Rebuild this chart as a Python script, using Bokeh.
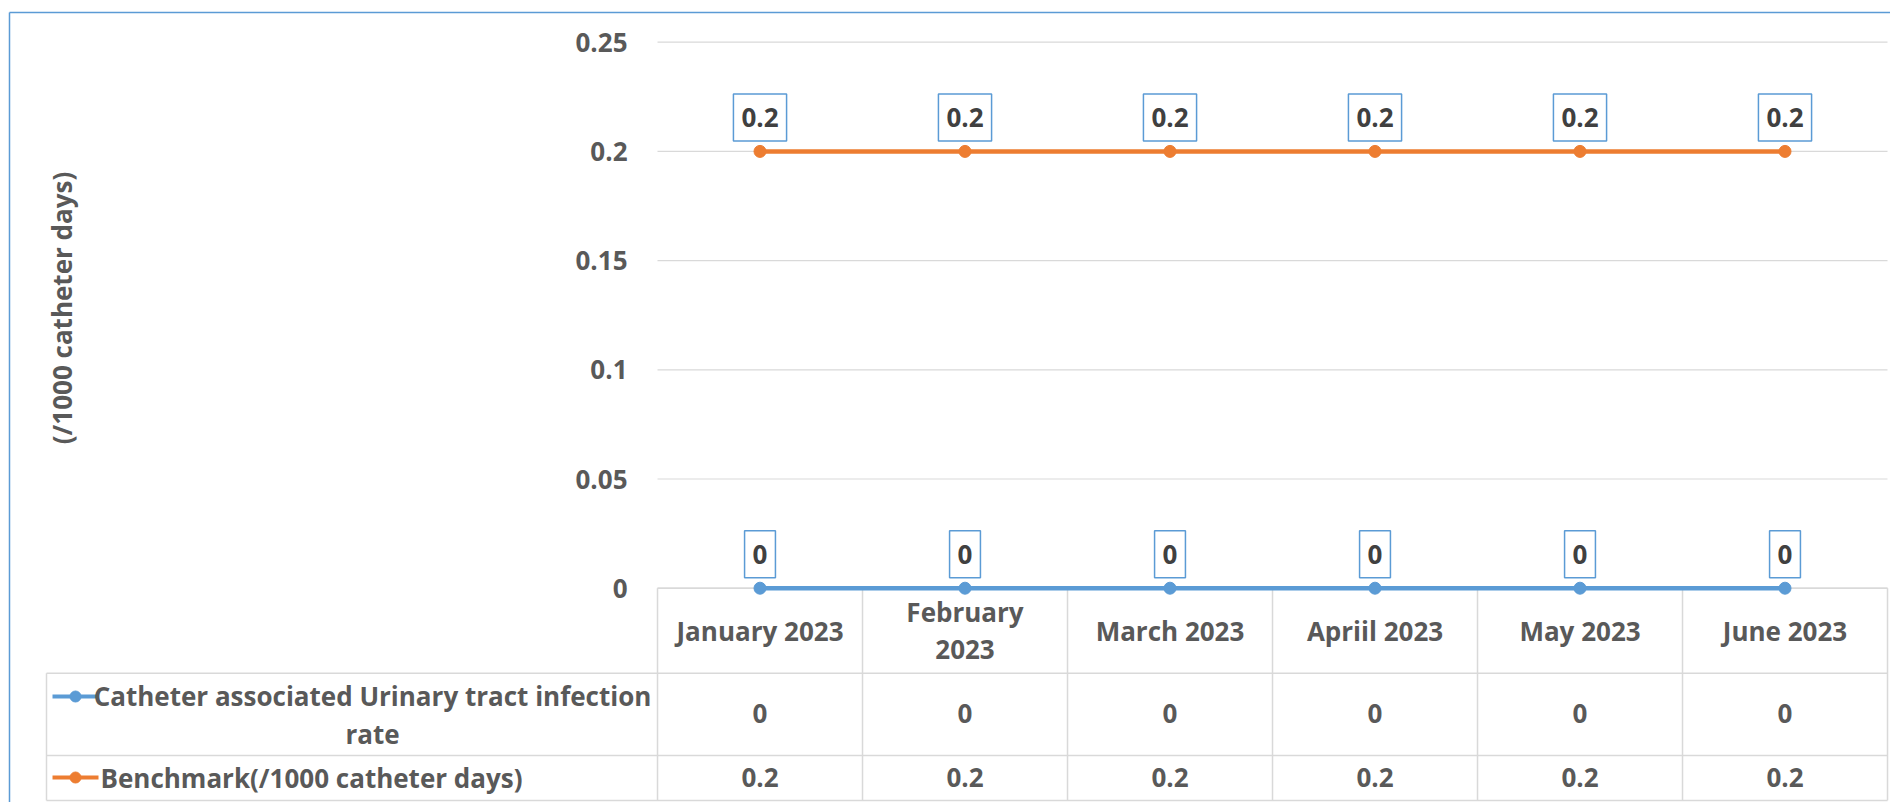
from bokeh.plotting import figure
from bokeh.models import Range1d, ColumnDataSource
from bokeh.core.properties import value
from bokeh.embed import file_html
from bokeh.resources import INLINE
import math

# ---------------- data ----------------
months = ["January 2023", "February\n2023", "March 2023", "Apriil 2023", "May 2023", "June 2023"]
cauti_rate = [0, 0, 0, 0, 0, 0]
benchmark = [0.2, 0.2, 0.2, 0.2, 0.2, 0.2]
series_names = ["Catheter associated Urinary tract infection\nrate", "Benchmark(/1000 catheter days)"]
y_ticks = [0, 0.05, 0.1, 0.15, 0.2, 0.25]
y_tick_labels = ["0", "0.05", "0.1", "0.15", "0.2", "0.25"]
y_title = "(/1000 catheter days)"

# ---------------- styling / layout ----------------
W, H = 1890, 802
BLUE = "#5B9BD5"
ORANGE = "#ED7D31"
GRID = "#D9D9D9"
TXT = "#595959"
LBL = "#404040"
FONT = value("Open Sans")
FS = "26px"

n = len(months)
x_start, x_end = -3.2049, 6.0146
y_lo, y_hi = -0.09812, 0.26909

# table row boundaries (data units below zero)
hdr_bottom = -0.03892
row1_bottom = -0.07660
row2_bottom = -0.09716
table_left = -2.9805
hdr_mid = -0.01937
row1_mid = -0.05737
row2_mid = -0.08668
row1_key = -0.04959
row1_text = -0.05806

p = figure(width=W, height=H, x_range=Range1d(x_start, x_end), y_range=Range1d(y_lo, y_hi),
           output_backend="svg", toolbar_location=None, min_border=0,
           x_axis_type=None, y_axis_type=None)
p.grid.visible = False
p.outline_line_color = None
p.background_fill_color = "white"
p.border_fill_color = "white"

# outer chart border (left and top visible)
bx, by = -3.1610, 0.26360
p.segment(x0=[bx, bx], y0=[y_lo, by], x1=[bx, x_end], y1=[by, by],
          line_color=BLUE, line_width=1.5)

# gridlines
p.segment(x0=[0] * len(y_ticks), x1=[n] * len(y_ticks), y0=y_ticks, y1=y_ticks,
          line_color=GRID, line_width=1.2)

# tick labels
p.text(x=[-0.1463] * len(y_ticks), y=y_ticks, text=y_tick_labels, text_font=FONT,
       text_font_style="bold", text_font_size=FS, text_color=TXT,
       text_align="right", text_baseline="middle")

# y-axis title
p.text(x=[-2.9049], y=[0.1283], text=[y_title], angle=math.pi / 2, text_font=FONT,
       text_font_style="bold", text_font_size=FS, text_color=TXT,
       text_align="center", text_baseline="middle")

# data table lines
hx0 = [0, table_left, table_left, table_left]
hx1 = [n, n, n, n]
hy = [0, hdr_bottom, row1_bottom, row2_bottom]
p.segment(x0=hx0, x1=hx1, y0=hy, y1=hy, line_color=GRID, line_width=1.5)
vx = list(range(n + 1)) + [table_left]
vy0 = [0] * (n + 1) + [hdr_bottom]
p.segment(x0=vx, x1=vx, y0=vy0, y1=[row2_bottom] * len(vx), line_color=GRID, line_width=1.5)

xc = [i + 0.5 for i in range(n)]

# header (category) labels
p.text(x=xc, y=[hdr_mid] * n, text=months, text_font=FONT, text_font_style="bold",
       text_font_size=FS, text_color=TXT, text_align="center", text_baseline="middle",
       text_line_height=1.02)

# table values
p.text(x=xc, y=[row1_mid] * n, text=[f"{v:g}" for v in cauti_rate], text_font=FONT,
       text_font_style="bold", text_font_size=FS, text_color=TXT,
       text_align="center", text_baseline="middle")
p.text(x=xc, y=[row2_mid] * n, text=[f"{v:g}" for v in benchmark], text_font=FONT,
       text_font_style="bold", text_font_size=FS, text_color=TXT,
       text_align="center", text_baseline="middle")

# legend keys in table
for col, ky in [(BLUE, row1_key), (ORANGE, row2_mid)]:
    p.segment(x0=[-2.9512], x1=[-2.7268], y0=[ky], y1=[ky], line_color=col, line_width=4)
    p.scatter(x=[-2.8390], y=[ky], size=11, color=col)

# legend names
p.text(x=[-1.3902], y=[row1_text], text=[series_names[0]],
       text_font=FONT, text_font_style="bold", text_font_size=FS, text_color=TXT,
       text_align="center", text_baseline="middle", text_line_height=1.05)
p.text(x=[-2.7171], y=[row2_mid], text=[series_names[1]], text_font=FONT,
       text_font_style="bold", text_font_size=FS, text_color=TXT,
       text_align="left", text_baseline="middle")

# series
for vals, col in [(benchmark, ORANGE), (cauti_rate, BLUE)]:
    src = ColumnDataSource(dict(x=xc, y=vals, t=[f"{v:g}" for v in vals]))
    p.line("x", "y", source=src, line_color=col, line_width=4.5)
    p.scatter("x", "y", source=src, size=12, color=col)
    p.text("x", "y", text="t", source=src, y_offset=-34, text_font=FONT,
           text_font_style="bold", text_font_size=FS, text_color=LBL,
           text_align="center", text_baseline="middle",
           background_fill_color="white", border_line_color=BLUE, border_line_width=1.5,
           padding=[8, 14])

open("out.html", "w").write(file_html(p, INLINE))
